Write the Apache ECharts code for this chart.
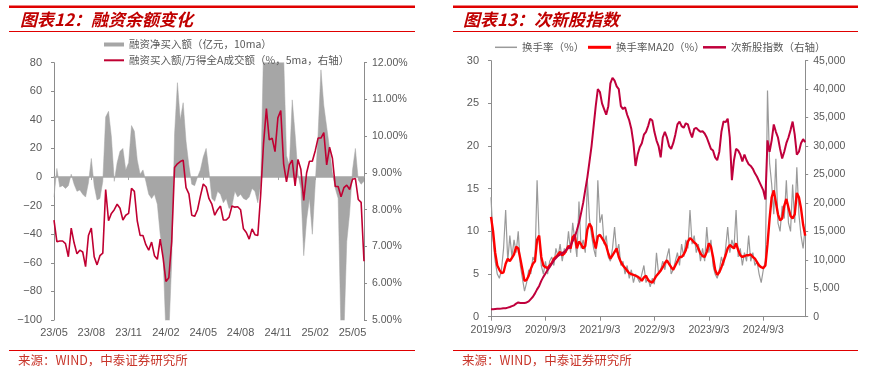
<!DOCTYPE html>
<html><head><meta charset="utf-8">
<script src="https://cdn.jsdelivr.net/npm/echarts@6/dist/echarts.min.js"></script>
<style>html,body{margin:0;padding:0;background:#fff}#c{width:876px;height:367px}</style>
</head><body><div id="c"></div>
<script>
// ---------- Left chart (图表12) ----------
const leftTicks = ['23/05','23/08','23/11','24/02','24/05','24/08','24/11','25/02','25/05'];
// 融资净买入额（亿元，10ma）, weekly samples
const leftNet = [-14,6,-7,-6,-8,-6,2,-5,-10,-9,-12,-14,-4,13,-6,-16,-15,-3,42,46,
  28,-3,10,18,20,5,10,36,32,12,2,5,-3,-12,-15,-12,-19,-40,-55,-110,
  -110,-60,30,66,40,52,25,8,-5,-6,0,5,14,20,4,-15,-17,-10,-12,-18,
  -15,-22,-20,-10,-14,-12,-15,-16,-14,-8,-10,-18,-5,90,95,95,95,95,95,95,
  85,15,8,54,30,2,-8,-55,-30,-15,-40,-5,30,75,50,35,20,3,-8,-15,
  -110,-110,-45,-25,5,20,-2,-5,-3];
// 融资买入额/万得全A成交额（%，5ma，右轴）
const leftRatio = [7.72,7.13,7.15,7.15,7.08,6.72,7.5,7.1,6.8,6.9,6.85,6.45,7.3,7.5,6.72,6.5,6.75,6.82,8.55,7.7,
  7.9,8.0,8.15,8.04,7.72,7.85,7.9,8.58,8.5,7.7,7.3,7.3,7.05,6.9,7.12,6.75,6.65,7.2,6.7,6.05,
  6.15,7.13,9.15,9.25,9.31,9.35,8.6,8.43,7.85,7.82,8.0,8.37,8.7,8.62,8.3,8.15,7.85,8.0,8.1,7.72,
  7.72,7.8,8.1,8.07,8.08,8.0,7.48,7.38,7.2,7.48,7.32,7.3,8.4,9.8,10.75,9.9,9.95,9.58,10.5,10.7,
  9.25,8.76,9.22,9.35,8.65,9.37,9.1,8.25,9.0,9.32,9.32,9.6,9.95,9.95,10.1,9.22,9.7,9.4,8.63,8.63,
  8.35,8.6,8.67,8.55,8.83,8.85,8.28,8.2,6.6];
const leftStep = 13; // samples between quarterly tick labels

// ---------- Right chart (图表13) ----------
const rightTicks = ['2019/9/3','2020/9/3','2021/9/3','2022/9/3','2023/9/3','2024/9/3'];
const rightStep = 26; // samples between yearly tick labels
// 换手率（%）
const turnover = [14.0,9.0,6.5,5.0,4.5,5.5,8.0,12.5,6.5,9.5,7.0,9.0,7.5,10.0,6.0,4.5,3.0,4.0,5.5,5.0,
  7.0,6.5,16.0,9.0,6.0,5.0,6.5,5.0,6.5,7.0,6.0,8.0,7.0,8.5,6.5,8.0,7.5,10.0,7.5,11.0,
  9.0,7.0,13.5,8.0,9.0,7.5,16.0,11.5,9.5,8.0,7.0,16.0,11.0,12.0,8.5,9.5,7.0,6.5,8.0,10.5,
  7.5,8.5,6.0,6.5,5.0,6.0,4.5,5.5,4.0,5.0,4.5,4.0,5.0,6.0,4.0,4.5,3.5,4.5,3.8,7.5,
  5.0,5.5,6.5,5.5,7.0,8.0,5.0,5.5,6.5,7.5,6.0,8.5,7.0,9.0,8.0,12.5,8.5,9.5,7.5,8.5,
  6.5,8.0,6.5,10.5,7.5,9.0,6.0,5.0,4.5,5.5,7.0,6.0,8.0,10.5,7.5,9.0,8.0,12.5,7.0,8.0,
  6.0,7.5,6.5,9.5,6.5,7.5,6.0,6.5,5.0,4.0,5.5,6.5,26.5,18.0,15.5,12.0,18.5,11.0,10.0,13.0,
  11.5,16.0,11.0,10.0,15.5,11.0,17.5,12.0,9.5,8.0,10.5];
// 换手率MA20（%）
const turnoverMA20 = [11.7,10.0,7.5,6.0,5.5,5.1,5.2,6.2,6.8,6.5,6.9,7.3,8.2,8.0,6.8,5.5,4.2,4.3,4.8,5.6,
  6.2,6.5,9.0,9.5,7.0,6.0,5.8,5.7,6.0,6.3,6.8,7.0,7.3,7.6,7.2,7.4,7.8,8.3,8.0,9.3,
  9.6,8.0,8.8,8.5,8.0,8.3,10.2,10.9,10.5,9.0,8.0,9.4,9.6,9.2,8.8,8.3,7.4,6.8,7.2,7.6,
  8.0,7.0,6.4,6.0,5.7,5.4,5.1,5.0,4.9,4.8,4.7,4.5,4.2,4.6,4.8,4.3,4.1,4.0,4.4,4.8,
  5.1,5.4,5.8,6.3,6.6,6.2,5.8,5.5,6.0,6.5,7.0,7.0,7.3,7.8,8.8,9.2,9.0,8.7,8.5,8.0,
  7.4,7.1,7.0,7.6,8.6,8.2,7.0,5.5,4.9,5.2,5.8,6.5,7.2,8.0,8.4,8.2,8.0,8.6,7.8,7.2,
  7.0,7.1,7.2,7.2,7.3,7.0,6.8,6.4,6.0,5.8,5.7,6.0,8.5,11.5,14.0,14.8,13.4,12.0,11.3,11.5,
  13.0,13.8,12.8,11.8,11.5,12.0,14.5,14.0,12.7,10.8,9.5];
// 次新股指数（右轴）
const subNewIndex = [1300,1320,1350,1380,1400,1430,1470,1500,1600,1700,1850,2000,2300,2500,2400,2400,2400,2500,2700,3100,
  3500,4100,4800,5400,6300,7000,7600,8200,8700,9300,9900,10300,10700,10900,11200,11400,11800,12100,12500,13300,
  14000,15200,16500,18200,20000,22300,24500,27200,30000,33500,37000,40000,39500,37500,36500,35500,37000,41000,42000,41500,
  40500,40000,37000,36500,36800,35500,34500,33000,30500,26500,28500,29800,30500,32000,32500,33500,34800,34500,32500,31000,
  30000,28000,31500,32500,31500,30000,29500,30500,32000,33800,34300,33500,33200,34000,33800,32500,31500,33000,33200,32800,
  32500,32600,32200,31500,30500,29500,29200,28000,27500,29000,32500,34300,34200,34800,31500,24000,27500,29500,29200,28500,
  27300,28500,27500,26800,26500,26000,25200,24600,23800,23000,22200,20600,31000,29000,31000,33800,32500,31500,29500,27800,
  29000,30500,31500,32800,34300,32000,28500,29000,30500,31200,30700];

// ---------- build ----------
const leftCats = leftNet.map((_, i) => i % leftStep === 0 ? leftTicks[i / leftStep] : '');
const rightCats = turnover.map((_, i) => i % rightStep === 0 && rightTicks[i / rightStep] ? rightTicks[i / rightStep] : '');
const leftShow = (i) => i % leftStep === 0;
const rightShow = (i) => i % rightStep === 0;

const NUM_FONT = '"Liberation Sans", Arial, sans-serif';
const CJK_FONT = '"Noto Sans CJK SC", sans-serif';
const LBL = '#595959';
const AX = '#8c8c8c';
const RED = '#E00000';

const names = {
  ln: '融资净买入额（亿元，10ma）',
  lr: '融资买入额/万得全A成交额（%，5ma，右轴）',
  r1: '换手率（%）',
  r2: '换手率MA20（%）',
  r3: '次新股指数（右轴）'
};

function legend(name, left, top, w, h) {
  return {
    data: [{ name: name, icon: 'rect' }], left: left, top: top, padding: 0,
    itemWidth: w, itemHeight: h, itemStyle: { borderWidth: 0 },
    textStyle: { color: LBL, fontSize: 10.5, fontFamily: CJK_FONT, lineHeight: 12 },
    selectedMode: false
  };
}

const option = {
  animation: false,
  backgroundColor: '#fff',
  legend: [
    legend(names.ln, 104, 38.5, 20, 4),
    legend(names.lr, 104, 54.3, 20, 2),
    legend(names.r1, 495, 41.3, 22, 1.5),
    legend(names.r2, 588, 41.3, 23, 3),
    legend(names.r3, 703, 41.3, 23, 2.5)
  ],
  grid: [
    { left: 54, top: 62.7, width: 310, height: 257.3, containLabel: false, outerBoundsMode: 'none' },
    { left: 491, top: 60.7, width: 314.2, height: 256, containLabel: false, outerBoundsMode: 'none' }
  ],
  xAxis: [
    { type: 'category', gridIndex: 0, data: leftCats, boundaryGap: false, z: 3,
      axisLine: { onZero: true, onZeroAxisIndex: 0, lineStyle: { color: '#a6a6a6', width: 1.5 } },
      axisTick: { show: true, interval: leftShow, length: 3, lineStyle: { color: '#a6a6a6' } },
      axisLabel: { show: false }, splitLine: { show: false } },
    { type: 'category', gridIndex: 0, data: leftCats, boundaryGap: false, position: 'bottom',
      axisLine: { show: false, onZero: false }, axisTick: { show: false },
      axisLabel: { interval: leftShow, margin: 7, color: LBL, fontSize: 11, fontFamily: NUM_FONT },
      splitLine: { show: false } },
    { type: 'category', gridIndex: 1, data: rightCats, boundaryGap: false, position: 'bottom',
      axisLine: { onZero: false, lineStyle: { color: AX, width: 1 } },
      axisTick: { show: true, interval: rightShow, length: 4, lineStyle: { color: AX } },
      axisLabel: { interval: rightShow, margin: 8, color: LBL, fontSize: 10.5, fontFamily: NUM_FONT },
      splitLine: { show: false } }
  ],
  yAxis: [
    { type: 'value', gridIndex: 0, min: -100, max: 80, interval: 20, position: 'left',
      axisLine: { show: true, lineStyle: { color: AX } },
      axisTick: { show: true, length: 3, lineStyle: { color: AX } },
      axisLabel: { margin: 12, color: LBL, fontSize: 11, fontFamily: NUM_FONT,
        formatter: v => v < 0 ? '\u2212' + Math.abs(v) : String(v) },
      splitLine: { show: false } },
    { type: 'value', gridIndex: 0, min: 5, max: 12, interval: 1, position: 'right',
      axisLine: { show: true, lineStyle: { color: AX } },
      axisTick: { show: true, length: 3, lineStyle: { color: AX } },
      axisLabel: { margin: 8, color: LBL, fontSize: 10.5, fontFamily: NUM_FONT,
        formatter: v => v.toFixed(2) + '%' },
      splitLine: { show: false } },
    { type: 'value', gridIndex: 1, min: 0, max: 30, interval: 5, position: 'left',
      axisLine: { show: true, lineStyle: { color: AX } },
      axisTick: { show: true, length: 3, lineStyle: { color: AX } },
      axisLabel: { margin: 12, color: LBL, fontSize: 11, fontFamily: NUM_FONT },
      splitLine: { show: false } },
    { type: 'value', gridIndex: 1, min: 0, max: 45000, interval: 5000, position: 'right',
      axisLine: { show: true, lineStyle: { color: AX } },
      axisTick: { show: true, length: 3, lineStyle: { color: AX } },
      axisLabel: { margin: 8, color: LBL, fontSize: 10.5, fontFamily: NUM_FONT,
        formatter: v => v.toLocaleString('en-US') },
      splitLine: { show: false } }
  ],
  series: [
    { name: names.ln, type: 'line', xAxisIndex: 0, yAxisIndex: 0, data: leftNet,
      symbol: 'none', z: 1, clip: true,
      itemStyle: { color: '#a6a6a6' }, lineStyle: { color: '#a6a6a6', width: 0.5 },
      areaStyle: { color: '#a6a6a6', opacity: 1, origin: 'auto' } },
    { name: names.lr, type: 'line', xAxisIndex: 0, yAxisIndex: 1, data: leftRatio,
      symbol: 'none', z: 5, itemStyle: { color: '#C00032' }, lineStyle: { color: '#C00032', width: 1.6 } },
    { name: names.r1, type: 'line', xAxisIndex: 2, yAxisIndex: 2, data: turnover,
      symbol: 'none', z: 2, itemStyle: { color: '#9a9a9a' }, lineStyle: { color: '#9a9a9a', width: 1.2 } },
    { name: names.r2, type: 'line', xAxisIndex: 2, yAxisIndex: 2, data: turnoverMA20,
      symbol: 'none', z: 3, itemStyle: { color: '#FF0000' }, lineStyle: { color: '#FF0000', width: 2.4 } },
    { name: names.r3, type: 'line', xAxisIndex: 2, yAxisIndex: 3, data: subNewIndex,
      symbol: 'none', z: 4, itemStyle: { color: '#C0003C' }, lineStyle: { color: '#C0003C', width: 2 } }
  ],
  graphic: [
    { type: 'rect', shape: { x: 9, y: 5.5, width: 406, height: 2.5 }, style: { fill: RED }, silent: true },
    { type: 'rect', shape: { x: 453, y: 5.5, width: 405, height: 2.5 }, style: { fill: RED }, silent: true },
    { type: 'line', shape: { x1: 9, y1: 31.5, x2: 415, y2: 31.5 }, style: { stroke: RED, lineWidth: 1 }, silent: true },
    { type: 'line', shape: { x1: 453, y1: 31.5, x2: 858, y2: 31.5 }, style: { stroke: RED, lineWidth: 1 }, silent: true },
    { type: 'line', shape: { x1: 9, y1: 350.5, x2: 415, y2: 350.5 }, style: { stroke: RED, lineWidth: 1 }, silent: true },
    { type: 'line', shape: { x1: 453, y1: 350.5, x2: 858, y2: 350.5 }, style: { stroke: RED, lineWidth: 1 }, silent: true },
    { type: 'text', x: 20, y: 20, silent: true,
      style: { text: '图表12：融资余额变化', fill: '#C00000', fontSize: 17, fontWeight: 'bold', fontStyle: 'italic',
        fontFamily: CJK_FONT, verticalAlign: 'middle', align: 'left' } },
    { type: 'text', x: 463, y: 20, silent: true,
      style: { text: '图表13：次新股指数', fill: '#C00000', fontSize: 17, fontWeight: 'bold', fontStyle: 'italic',
        fontFamily: CJK_FONT, verticalAlign: 'middle', align: 'left' } },
    { type: 'text', x: 18, y: 360, silent: true,
      style: { text: '来源：WIND，中泰证券研究所', fill: '#C8352A', fontSize: 12.5,
        fontFamily: CJK_FONT, verticalAlign: 'middle', align: 'left' } },
    { type: 'text', x: 462, y: 360, silent: true,
      style: { text: '来源：WIND，中泰证券研究所', fill: '#C8352A', fontSize: 12.5,
        fontFamily: CJK_FONT, verticalAlign: 'middle', align: 'left' } }
  ]
};

const chart = echarts.init(document.getElementById('c'));
chart.setOption(option);
</script></body></html>
